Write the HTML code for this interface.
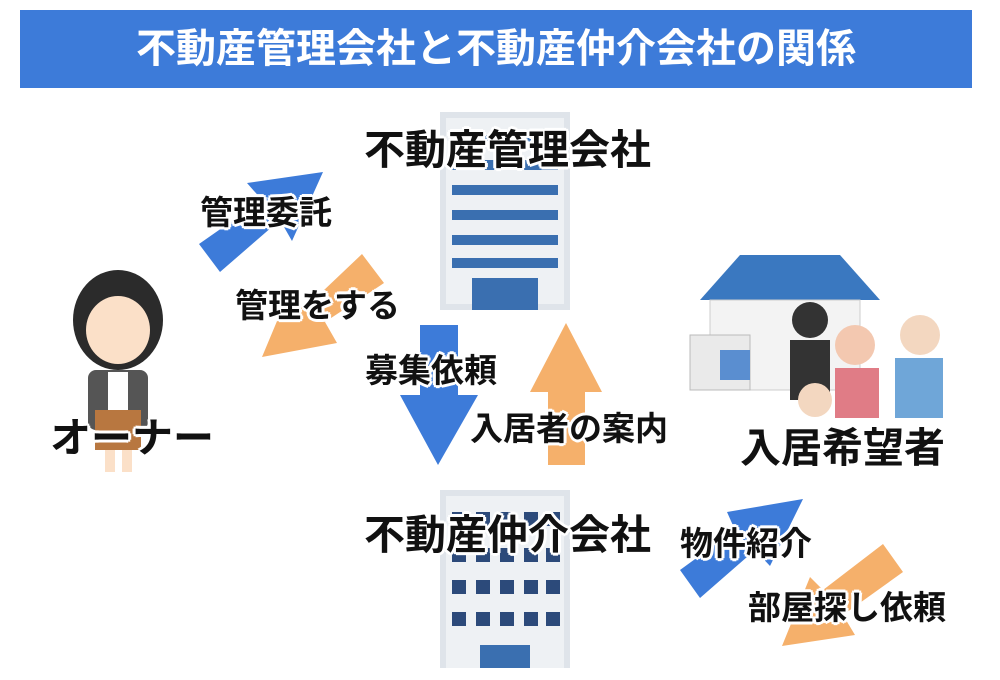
<!DOCTYPE html>
<html><head><meta charset="utf-8"><style>
body{margin:0;width:1000px;height:680px;background:#fff;position:relative;overflow:hidden;font-family:"Liberation Sans","Noto Sans CJK JP",sans-serif;}
.t{position:absolute;font-weight:bold;color:#111;white-space:nowrap;line-height:1;
text-shadow:0 0 3px #fff,2px 2px 0 #fff,-2px -2px 0 #fff,2px -2px 0 #fff,-2px 2px 0 #fff,0 3px 0 #fff,0 -3px 0 #fff,3px 0 0 #fff,-3px 0 0 #fff;}
.big{font-size:41px;}
.lab{font-size:33px;}
</style></head><body>
<div style="position:absolute;left:20px;top:10px;width:952px;height:78px;background:#3d7bd9;color:#fff;font-weight:bold;font-size:40px;text-align:center;line-height:78px;white-space:nowrap;">不動産管理会社と不動産仲介会社の関係</div>
<svg width="1000" height="680" style="position:absolute;left:0;top:0">
<rect x="440" y="112" width="130" height="198" fill="#dfe4ea"/>
<rect x="446" y="118" width="118" height="186" fill="#eef1f4"/>
<g fill="#3a6fb0">
<rect x="452" y="135" width="106" height="10"/><rect x="452" y="160" width="106" height="10"/><rect x="452" y="185" width="106" height="10"/><rect x="452" y="210" width="106" height="10"/><rect x="452" y="235" width="106" height="10"/><rect x="452" y="258" width="106" height="10"/>
<rect x="472" y="278" width="66" height="32"/>
</g>
<rect x="440" y="490" width="130" height="178" fill="#dfe4ea"/>
<rect x="446" y="496" width="118" height="172" fill="#eef1f4"/>
<g fill="#2c4a7a">
<rect x="452" y="512" width="14" height="14"/><rect x="476" y="512" width="14" height="14"/><rect x="500" y="512" width="14" height="14"/><rect x="524" y="512" width="14" height="14"/><rect x="546" y="512" width="14" height="14"/>
<rect x="452" y="548" width="14" height="14"/><rect x="476" y="548" width="14" height="14"/><rect x="500" y="548" width="14" height="14"/><rect x="524" y="548" width="14" height="14"/><rect x="546" y="548" width="14" height="14"/>
<rect x="452" y="580" width="14" height="14"/><rect x="476" y="580" width="14" height="14"/><rect x="500" y="580" width="14" height="14"/><rect x="524" y="580" width="14" height="14"/><rect x="546" y="580" width="14" height="14"/>
<rect x="452" y="612" width="14" height="14"/><rect x="476" y="612" width="14" height="14"/><rect x="500" y="612" width="14" height="14"/><rect x="524" y="612" width="14" height="14"/><rect x="546" y="612" width="14" height="14"/>
<rect x="480" y="645" width="50" height="23" fill="#3a6fb0"/>
</g>
<polygon points="199,244 262,200 247,183 323,172 292,241 280,220 220,272" fill="#3d7bd9"/>
<polygon points="362,254 384,283 325,322 337,343 262,357 290,290 303,310" fill="#f5b06b"/>
<polygon points="680,570 735,530 727,512 803,499 770,566 755,550 700,598" fill="#3d7bd9"/>
<polygon points="883,544 903,572 843,615 855,635 782,646 810,577 823,590" fill="#f5b06b"/>
<polygon points="420,325 458,325 458,395 478,395 438,465 400,395 420,395" fill="#3d7bd9"/>
<polygon points="548,465 585,465 585,392 602,392 566,323 530,392 548,392" fill="#f5b06b"/>
<ellipse cx="118" cy="320" rx="45" ry="50" fill="#2b2b2b"/>
<ellipse cx="118" cy="330" rx="32" ry="34" fill="#fbe0c8"/>
<rect x="88" y="370" width="60" height="60" rx="8" fill="#555"/>
<rect x="108" y="372" width="20" height="40" fill="#fff"/>
<rect x="95" y="410" width="46" height="40" fill="#b87740"/>
<rect x="105" y="450" width="10" height="22" fill="#fbe0c8"/><rect x="122" y="450" width="10" height="22" fill="#fbe0c8"/>
<polygon points="700,300 740,255 840,255 880,300" fill="#3a78c0"/>
<rect x="710" y="300" width="150" height="90" fill="#f3f3f3" stroke="#ccc"/>
<rect x="690" y="335" width="60" height="55" fill="#eaeaea" stroke="#bbb"/>
<rect x="720" y="350" width="30" height="30" fill="#5a8ed0"/>
<circle cx="810" cy="320" r="18" fill="#333"/><rect x="790" y="340" width="40" height="60" fill="#333"/>
<circle cx="855" cy="345" r="20" fill="#f3c8b0"/><rect x="835" y="368" width="44" height="50" fill="#e07c86"/>
<circle cx="920" cy="335" r="20" fill="#f3d7c0"/><rect x="895" y="358" width="48" height="60" fill="#6fa6d8"/>
<circle cx="815" cy="400" r="17" fill="#f3d7c0"/>
</svg>
<div class="t big" style="left:364px;top:130px;">不動産管理会社</div>
<div class="t big" style="left:364px;top:515px;">不動産仲介会社</div>
<div class="t big" style="left:50px;top:418px;">オーナー</div>
<div class="t big" style="left:740px;top:428px;">入居希望者</div>
<div class="t lab" style="left:200px;top:196px;">管理委託</div>
<div class="t lab" style="left:235px;top:289px;">管理をする</div>
<div class="t lab" style="left:365px;top:354px;">募集依頼</div>
<div class="t lab" style="left:470px;top:412px;">入居者の案内</div>
<div class="t lab" style="left:680px;top:527px;">物件紹介</div>
<div class="t lab" style="left:748px;top:591px;">部屋探し依頼</div>
</body></html>
